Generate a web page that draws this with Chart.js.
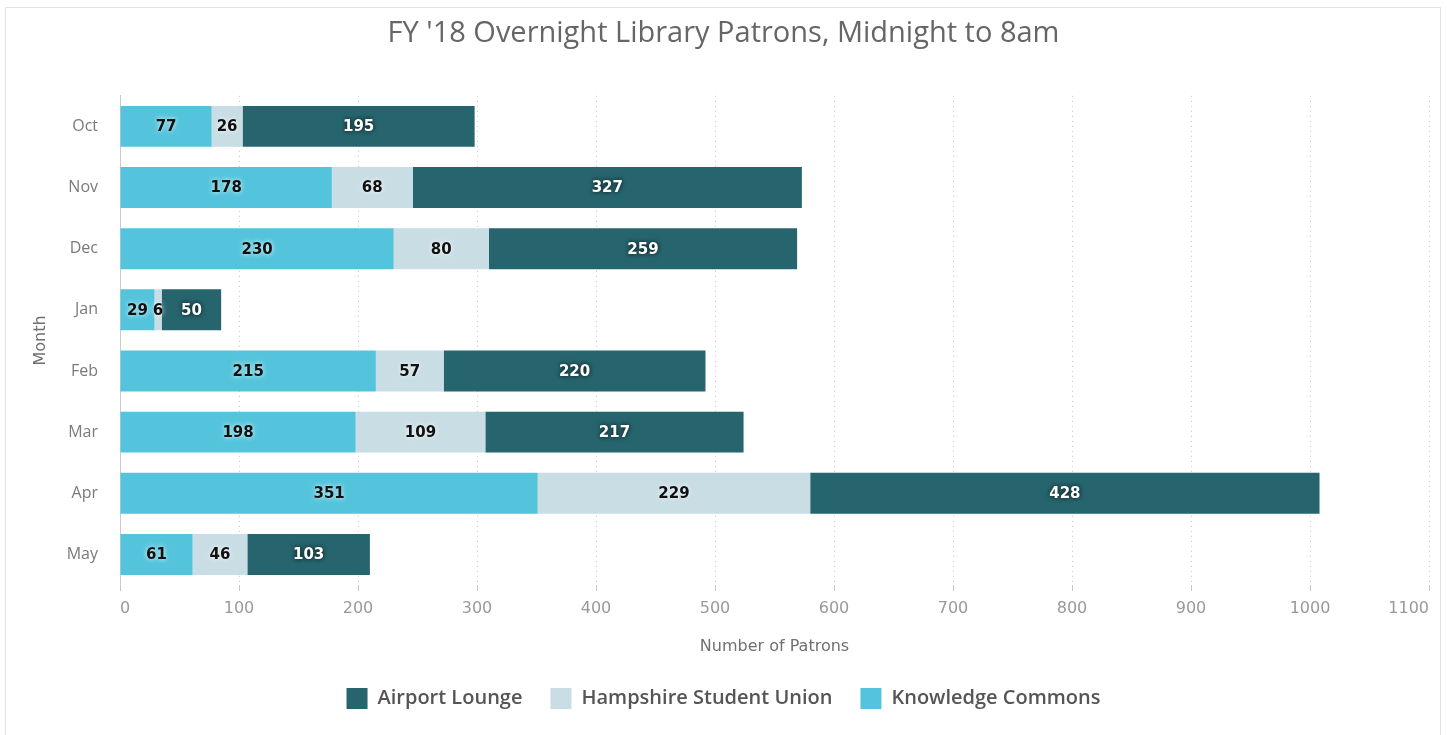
<!DOCTYPE html>
<html>
<head>
<meta charset="utf-8">
<script src="https://cdn.jsdelivr.net/npm/chart.js@4.4.1/dist/chart.umd.min.js"></script>
<style>
  body { margin: 0; background: #fff; }
  #wrap { position: absolute; left: 0; top: 0; width: 1447px; height: 735px; }
  #frame { position: absolute; left: 5px; top: 7px; width: 1434px; height: 740px; border: 1px solid #e2e2e2; pointer-events: none; }
</style>
</head>
<body>
<div id="wrap"><canvas id="chart" width="1447" height="735"></canvas></div>
<div id="frame"></div>
<script>
const months = ['Oct', 'Nov', 'Dec', 'Jan', 'Feb', 'Mar', 'Apr', 'May'];
const knowledgeCommons = [77, 178, 230, 29, 215, 198, 351, 61];
const hampshireUnion = [26, 68, 80, 6, 57, 109, 229, 46];
const airportLounge = [195, 327, 259, 50, 220, 217, 428, 103];

// draws the numbers inside each bar segment
const barLabels = {
  id: 'barLabels',
  afterDatasetsDraw(chart) {
    const ctx = chart.ctx;
    ctx.save();
    ctx.font = 'bold 15px "DejaVu Sans"';
    ctx.textAlign = 'center';
    ctx.textBaseline = 'middle';
    chart.data.datasets.forEach((ds, i) => {
      const meta = chart.getDatasetMeta(i);
      const dark = ds.label === 'Airport Lounge';
      meta.data.forEach((bar, j) => {
        const x = (bar.x + bar.base) / 2;
        ctx.shadowBlur = 5;
        ctx.shadowColor = dark ? 'rgba(0,0,0,0.9)' : 'rgba(255,255,255,0.95)';
        ctx.fillStyle = dark ? '#ffffff' : '#111111';
        ctx.fillText(ds.data[j], x, bar.y + 1);
      });
    });
    ctx.restore();
  }
};

new Chart(document.getElementById('chart'), {
  type: 'bar',
  data: {
    labels: months,
    datasets: [
      { label: 'Knowledge Commons', data: knowledgeCommons, backgroundColor: '#54c4dc' },
      { label: 'Hampshire Student Union', data: hampshireUnion, backgroundColor: '#c8dde4' },
      { label: 'Airport Lounge', data: airportLounge, backgroundColor: '#27656e' }
    ]
  },
  options: {
    indexAxis: 'y',
    responsive: false,
    animation: false,
    devicePixelRatio: 1,
    layout: { padding: { left: 18, right: 18, top: 0, bottom: 16 } },
    datasets: { bar: { barPercentage: 0.67, categoryPercentage: 1 } },
    scales: {
      x: {
        stacked: true,
        min: 0,
        max: 1100,
        ticks: { stepSize: 100, color: '#999', font: { family: 'DejaVu Sans', size: 16 }, padding: 8, align: 'inner', maxRotation: 0,
          callback: v => String(v) },
        grid: { color: '#c4c4c4', tickLength: 6, tickColor: '#c4c4c4' },
        border: { display: false, dash: [1, 4] },
        title: { display: true, text: 'Number of Patrons', color: '#707070', font: { family: 'DejaVu Sans', size: 16 }, padding: { top: 16, bottom: 4 } },
        afterFit(scale) { scale.height = 75; scale.paddingRight = 0; scale.paddingLeft = 0; }
      },
      y: {
        stacked: true,
        ticks: { color: '#7a7a7a', font: { family: 'Open Sans', size: 16 }, padding: 22 },
        grid: { display: false, drawTicks: false },
        border: { display: true, color: '#cccccc' },
        title: { display: true, text: 'Month', color: '#707070', font: { family: 'DejaVu Sans', size: 16 }, padding: { top: 13, bottom: 0 } },
        afterFit(scale) { scale.width = 102; }
      }
    },
    plugins: {
      title: {
        display: true,
        text: "FY '18 Overnight Library Patrons, Midnight to 8am",
        color: '#666',
        font: { family: 'Open Sans', size: 29, weight: 'normal' },
        padding: { top: 16, bottom: 45 }
      },
      legend: {
        position: 'bottom',
        reverse: true,
        labels: { boxWidth: 21, boxHeight: 21, color: '#555', padding: 28, font: { family: 'Open Sans', size: 20, weight: '600' } }
      },
      tooltip: { enabled: false }
    }
  },
  plugins: [barLabels]
});
</script>
</body>
</html>
